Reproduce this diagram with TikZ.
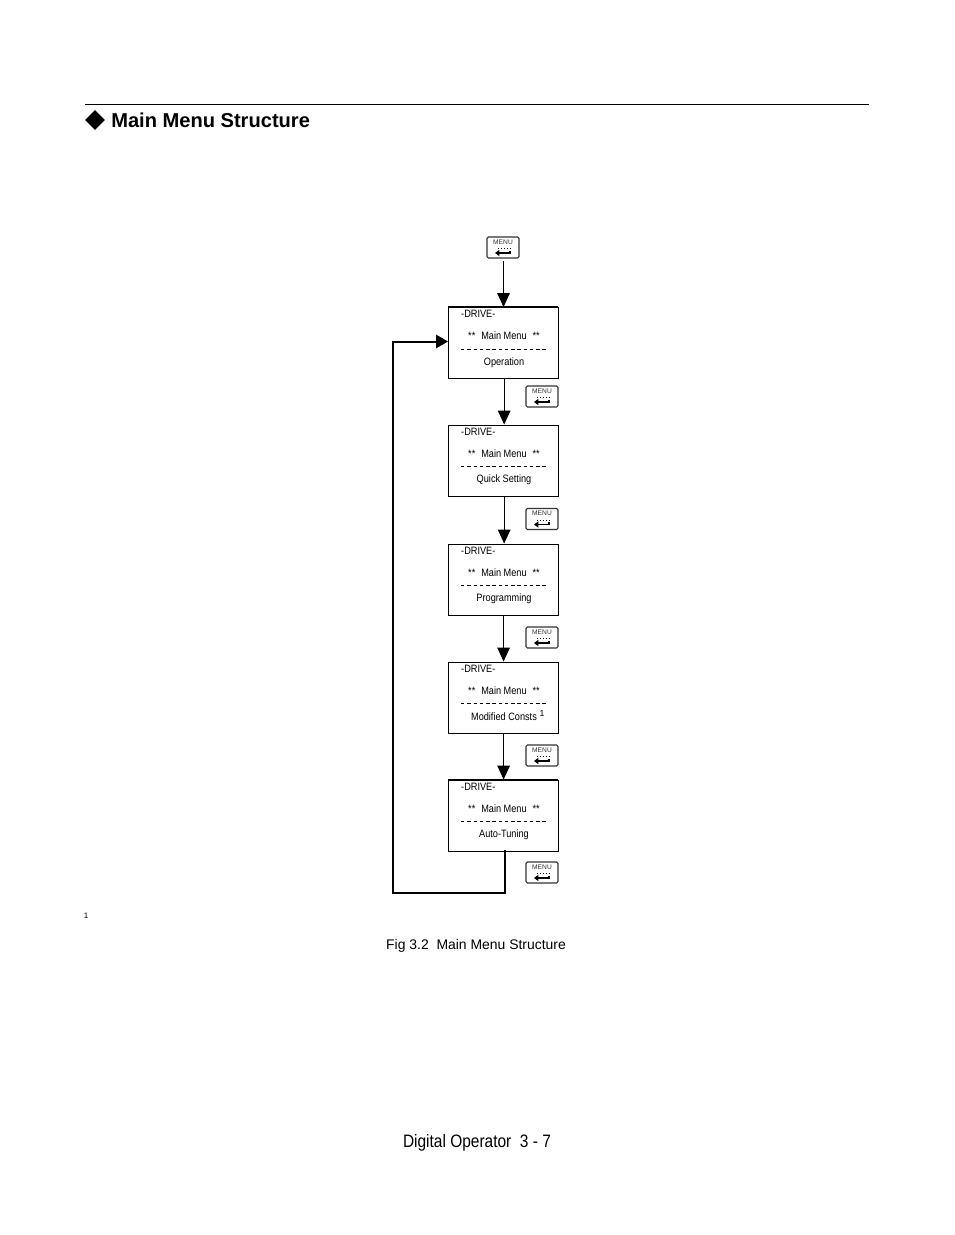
\documentclass[tikz,border=0pt]{standalone}
\usepackage{fontspec}
\setmainfont{Liberation Sans}
\usetikzlibrary{arrows.meta,shapes.geometric,calc}
\tikzset{
  x=0.75pt,y=-0.75pt,
  screen/.style={draw=black,line width=0.9pt,minimum width=82.5pt,minimum height=53.25pt,inner sep=0pt,anchor=north west},
  boxtext/.style={font=\fontsize{8pt}{9pt}\selectfont,inner sep=0pt,xscale=0.86},
  keybox/.style={draw=black!80,line width=0.8pt,rounded corners=1pt,minimum width=24pt,minimum height=15.75pt,inner sep=0pt},
  keylabel/.style={font=\fontsize{5pt}{6pt}\selectfont,text=black!80,inner sep=0pt},
  flow/.style={draw=black,line width=0.8pt,-{Triangle[length=10.5pt,width=9.5pt]}},
  back/.style={draw=black,line width=1.5pt},
  dashrule/.style={draw=black,line width=0.5pt,dash pattern=on 2.6pt off 2.1pt},
}
\newcommand{\menubox}[4][]{%
  \node[screen] (#2) at (448,#3) {};
  \node[boxtext,anchor=west] (#2d) at (461,#3+7) {-DRIVE-};
  \node[boxtext] (#2m) at (504,#3+29) {**\hspace{3pt} Main Menu\hspace{3pt} **};
  \coordinate (#2l) at (461,#3+42);
  \coordinate (#2r) at (547,#3+42);
  \draw[dashrule] (#2l) -- (#2r);
  \node[boxtext] (#2t) at (504,#3+55.5) {#4};
}
\newcommand{\menukey}[3]{%
  \node[keybox] (#1) at (#2,#3) {};
  \node[keylabel] (#1k) at (#2,#3-5.5) {MENU};
  \draw[black,line width=0.7pt,dash pattern=on 1.1pt off 1.1pt] (#2-5,#3+1) -- (#2+8,#3+1);
  \draw[black,line width=0.9pt,-{Triangle[length=3.2pt,width=4.4pt]}] (#2+7,#3+3) -- (#2+7,#3+5.5) -- (#2-8,#3+5.5);
}
\begin{document}
\begin{tikzpicture}
\useasboundingbox (0,0) rectangle (954,1235);
\fill[white] (0,0) rectangle (954,1235);
\coordinate (ruleL) at (85,104.5);
\coordinate (ruleR) at (869,104.5);
\draw[black,line width=0.8pt] (ruleL) -- (ruleR);
\node[diamond,fill=black,minimum width=15pt,minimum height=15pt,inner sep=0pt] (dia) at (95,120) {};
\node[anchor=west,inner sep=0pt,font=\fontsize{15.07pt}{18pt}\selectfont\bfseries] (head) at (111,120) {Main Menu Structure};

\menubox{a}{307}{Operation}
\menubox{b}{424.5}{Quick Setting}
\menubox{c}{543.5}{Programming}
\menubox{d}{661.5}{Modified Consts}
\menubox{e}{779.5}{Auto-Tuning}
\node[inner sep=0pt,font=\fontsize{6.5pt}{8pt}\selectfont] (sup) at (542,713.5) {1};

\menukey{k0}{503}{247.5}
\menukey{k1}{542}{396.5}
\menukey{k2}{542}{519}
\menukey{k3}{542}{637.5}
\menukey{k4}{542}{755.5}
\menukey{k5}{542}{872.5}

\draw[black,line width=1.3pt] (448,307) -- (558,307);
\draw[black,line width=1.3pt] (448,779.5) -- (558,779.5);

\coordinate (a0) at (503.5,261);
\draw[flow] (a0) -- (a0 |- a.north);
\draw[flow] ($(a.south west)!0.505!(a.south east)$) -- ($(b.north west)!0.505!(b.north east)$);
\draw[flow] ($(b.south west)!0.505!(b.south east)$) -- ($(c.north west)!0.505!(c.north east)$);
\draw[flow] ($(c.south west)!0.5!(c.south east)$) -- ($(d.north west)!0.5!(d.north east)$);
\draw[flow] ($(d.south west)!0.5!(d.south east)$) -- ($(e.north west)!0.5!(e.north east)$);

\coordinate (f0) at (505,850);
\coordinate (f1) at (505,893);
\coordinate (f2) at (393,893);
\coordinate (f3) at (393,341.5);
\draw[back,-{Triangle[length=9pt,width=10pt]}] (f0) -- (f1) -- (f2) -- (f3) -- (a.west |- f3);

\node[inner sep=0pt,font=\fontsize{6pt}{7pt}\selectfont] (fn) at (86,916) {1};
\node[inner sep=0pt,font=\fontsize{10.45pt}{12pt}\selectfont] (cap) at (476,945.5) {Fig 3.2\ \ Main Menu Structure};
\node[inner sep=0pt,font=\fontsize{13.5pt}{16pt}\selectfont,xscale=0.86] (page) at (477,1143) {Digital Operator\ \ 3 - 7};
\end{tikzpicture}
\end{document}
